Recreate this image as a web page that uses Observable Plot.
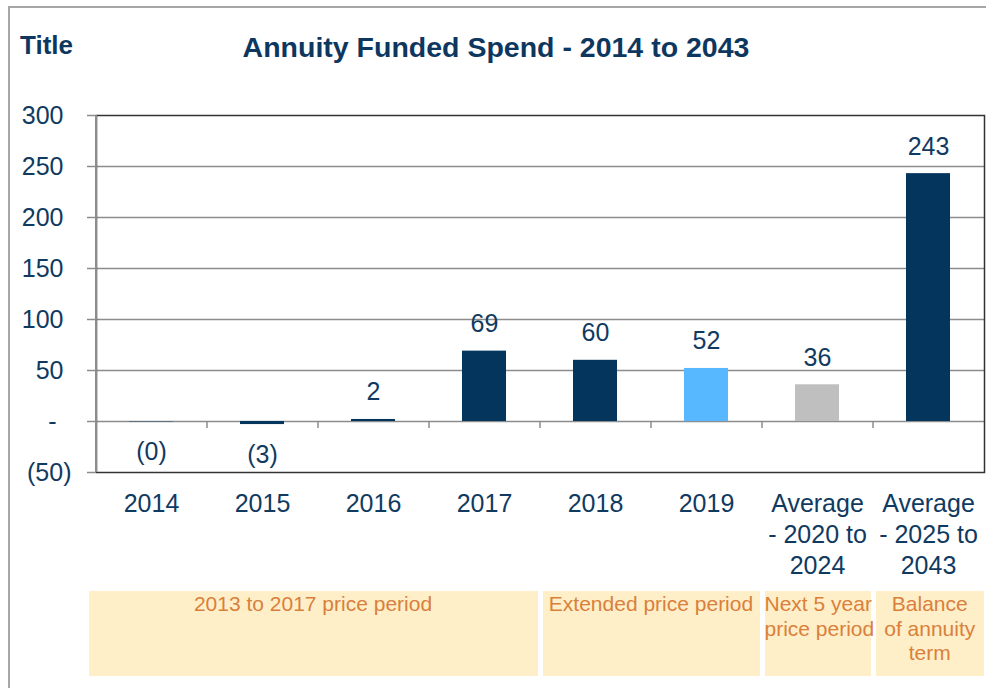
<!DOCTYPE html>
<html>
<head>
<meta charset="utf-8">
<script src="https://cdn.jsdelivr.net/npm/d3@7"></script>
<script src="https://cdn.jsdelivr.net/npm/@observablehq/plot@0.6"></script>
<style>
  body { margin: 0; background: #fff; font-family: "Liberation Sans", Arial, sans-serif; }
  #wrap { position: relative; width: 986px; height: 688px; overflow: hidden; background: #fff; }
  #outer { position: absolute; left: 8px; top: 6px; width: 1200px; height: 900px;
           border-left: 2px solid #A6A6A6; border-top: 2px solid #A6A6A6; }
  .ttl { position: absolute; font-weight: bold; color: #0E375F; white-space: nowrap; }
  #chart { position: absolute; left: 0; top: 0; }
  .box { position: absolute; top: 591px; height: 85px; background: #FFEFC8; color: #D9803C;
         font-size: 21px; line-height: 24.5px; text-align: center; white-space: pre;
         padding-top: 1px; box-sizing: border-box; overflow: visible; }
</style>
</head>
<body>
<div id="wrap">
  <div id="outer"></div>
  <div id="chart"></div>
  <div class="ttl" style="left:20px;top:30px;font-size:26px;line-height:30px;">Title</div>
  <div class="ttl" style="left:0;width:992px;text-align:center;top:32px;font-size:28.5px;line-height:30px;">Annuity Funded Spend - 2014 to 2043</div>
</div>
<script>
// ---- data ----
const categories = ["2014", "2015", "2016", "2017", "2018", "2019",
  "Average\n- 2020 to\n2024", "Average\n- 2025 to\n2043"];
const values = [-0.3, -3, 2, 69, 60, 52, 36, 243];
const yTicks = [-50, 0, 50, 100, 150, 200, 250, 300];
const periodLabels = ["2013 to 2017 price period", "Extended price period",
  "Next 5 year\nprice period", "Balance\nof annuity\nterm"];
const periodFirst = [0, 4, 6, 7];   // first category index of each period
const periodLast = [3, 5, 6, 7];    // last category index of each period

// ---- styles ----
const NAVY = "#03355D", LIGHT = "#57B7FF", GREY = "#BFBFBF";
const TEXT = "#103A5F", GRID = "#8C8C8C";
const FS = 25;
const W = 986, H = 590, ML = 96, MR = 2, MT = 115, MB = H - 472;
const step = (W - ML - MR) / categories.length;

const data = categories.map((c, i) => ({category: c, value: values[i], i}));
const fillOf = d => d.i === 5 ? LIGHT : d.i === 6 ? GREY : NAVY;
const fmt = v => v === 0 ? "-" : v < 0 ? `(${Math.abs(Math.round(v))})` : `${Math.round(v)}`;

const chart = Plot.plot({
  width: W, height: H,
  marginLeft: ML, marginRight: MR, marginTop: MT, marginBottom: MB,
  style: {fontFamily: "'Liberation Sans', Arial, sans-serif", fontSize: FS + "px", background: "transparent"},
  x: {domain: categories, paddingInner: 0.6, paddingOuter: 0.3, label: null},
  y: {domain: [-50, 300], label: null},
  marks: [
    Plot.ruleY(yTicks.filter(t => t > -50 && t < 300), {stroke: GRID, strokeWidth: 1.5}),
    Plot.frame({stroke: "#333333", strokeWidth: 1.5}),
    Plot.ruleX([categories[0]], {dx: -step / 2, y1: -50, y2: 300, stroke: GRID, strokeWidth: 2}),
    Plot.ruleX(categories.slice(1), {dx: -step / 2, y1: 0, y2: 0, insetBottom: -7, stroke: GRID, strokeWidth: 1.5}),
    Plot.barY(data, {x: "category", y1: 0, y2: "value", fill: fillOf}),
    Plot.text(data.filter(d => d.value >= 0), {x: "category", y: "value", text: d => fmt(d.value),
      dy: -27, fill: TEXT, fontSize: FS}),
    Plot.text(data.filter(d => d.value < 0), {x: "category", y: "value", text: d => fmt(d.value),
      dy: 30, fill: TEXT, fontSize: FS}),
    Plot.axisY(yTicks.filter(t => t > 0), {tickSize: 9, tickPadding: 24, tickFormat: fmt, label: null,
      stroke: GRID, strokeWidth: 1.5, fill: TEXT, fontSize: FS}),
    Plot.axisY([0], {tickSize: 9, tickPadding: 31, tickFormat: fmt, label: null,
      stroke: GRID, strokeWidth: 1.5, fill: TEXT, fontSize: FS}),
    Plot.axisY([-50], {tickSize: 9, tickPadding: 16, tickFormat: fmt, label: null,
      stroke: GRID, strokeWidth: 1.5, fill: TEXT, fontSize: FS}),
    Plot.axisX({anchor: "bottom", tickSize: 0, tickPadding: 18, fill: TEXT, fontSize: FS, label: null,
      lineHeight: 1.23, tickFormat: d => d})
  ]
});
document.getElementById("chart").appendChild(chart);

// ---- period boxes, aligned with the x scale ----
const xs = chart.scale("x");
const bw = xs.bandwidth ?? step * 0.4;
const boundary = k => k >= categories.length
  ? W - MR
  : xs.apply(categories[k]) - (step - bw) / 2;
const wrap = document.getElementById("wrap");
periodLabels.forEach((lab, j) => {
  const b0 = boundary(periodFirst[j]);
  const b1 = boundary(periodLast[j] + 1);
  const left = j === 0 ? b0 - 7 : b0 + 3;
  const right = periodLast[j] + 1 >= categories.length ? b1 : b1 - 2;
  const div = document.createElement("div");
  div.className = "box";
  div.style.left = left + "px";
  div.style.width = (right - left) + "px";
  div.textContent = lab;
  wrap.appendChild(div);
});
</script>
</body>
</html>
